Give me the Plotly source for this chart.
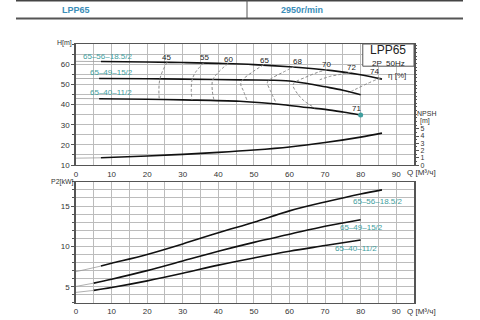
import plotly.graph_objects as go

# ---------------- data ----------------
q_ticks = [0, 10, 20, 30, 40, 50, 60, 70, 80, 90]
h_ticks = [10, 20, 30, 40, 50, 60]
npsh_ticks = [0, 1, 2, 3, 4, 5]
p_ticks = [5, 10, 15]

model_names = ["65–56–18.5/2", "65–49–15/2", "65–40–11/2"]

# Head curves H(Q)
q_h185 = [7, 20, 30, 40, 50, 60, 72, 80, 86]
h_185 = [61.3, 61.1, 60.8, 60.4, 59.8, 58.7, 56.8, 54.8, 52.6]
q_h15 = [6.5, 20, 30, 46, 59, 65, 70, 75, 80]
h_15 = [52.9, 52.8, 52.6, 52.2, 51.8, 50.4, 48.8, 47.1, 44.9]
q_h11 = [6.5, 20, 30, 46, 59, 65, 70, 75, 80]
h_11 = [42.9, 42.6, 42.3, 41.6, 39.8, 38.5, 37.6, 36.3, 34.8]
h_start = [61.4, 52.9, 43.0]  # thin extension at Q=0

# NPSH curve
q_npsh = [7, 20, 30, 40, 50, 60, 70, 80, 86]
npsh = [1.0, 1.25, 1.48, 1.75, 2.08, 2.5, 3.1, 3.85, 4.4]
npsh_start = 0.95

# Power curves P2(Q)
q_p185 = [7, 10, 20, 30, 40, 50, 60, 70, 80, 86]
p_185 = [7.56, 7.9, 9.0, 10.3, 11.7, 13.0, 14.4, 15.5, 16.5, 17.0]
q_p15 = [5, 10, 20, 30, 40, 50, 60, 70, 80]
p_15 = [5.45, 5.94, 7.0, 8.2, 9.4, 10.5, 11.5, 12.5, 13.3]
q_p11 = [5, 10, 20, 30, 40, 50, 60, 70, 80]
p_11 = [4.55, 4.9, 5.73, 6.67, 7.68, 8.57, 9.4, 10.1, 10.8]
p_start = [6.87, 5.04, 4.3]

# Iso-efficiency curves
eta_labels = ["45", "55", "60", "65", "68", "70", "72", "74"]
eta_q = [
    [25.6, 24.2, 23.5, 23.3, 23.4],
    [35.9, 33.6, 32.6, 32.4, 32.6],
    [42.8, 40.0, 38.4, 38.3, 38.8],
    [52.8, 49.5, 46.8, 46.3, 47.0, 48.2],
    [61.5, 58.2, 55.0, 53.8, 54.6, 56.2],
    [70.6, 68.0, 64.5, 61.5, 61.0, 62.2, 64.0, 67.2],
    [77.3, 74.5, 71.5, 68.5],
    [85.6, 82.0, 78.5, 76.5],
]
eta_h = [
    [61.0, 56.0, 52.0, 47.0, 42.5],
    [60.7, 56.0, 52.0, 47.0, 42.2],
    [60.4, 56.0, 52.0, 47.0, 42.0],
    [59.8, 56.0, 52.2, 50.0, 47.0, 41.5],
    [59.0, 56.0, 53.0, 51.0, 47.0, 41.0],
    [57.3, 56.0, 53.5, 51.0, 49.5, 45.5, 42.0, 38.2],
    [56.0, 55.0, 54.0, 52.3],
    [53.2, 50.5, 47.5, 45.8],
]
eta_label_q = [25.5, 36.0, 43.0, 53.0, 62.3, 70.3, 77.5, 84.0]
eta_label_h = [63.3, 63.3, 62.5, 62.0, 61.3, 59.8, 58.3, 56.2]

# ---------------- figure ----------------
L, R, W, H = 76, 66, 480, 320
PW = W - L - R


def px(x):
    return (x - L) / PW


def py(y):
    return (H - y) / H


TEAL = "#3f9e9e"
HEAD = "#3a8db8"
GRID = "#bcbcbc"
AX = "#555555"
FONT = "Liberation Sans, Arial, sans-serif"

fig = go.Figure()

thin = dict(color="#9a9a9a", width=0.8)
bold = dict(color="#111111", width=1.6, shape="spline")

# head curves
for qs, hs, h0 in [(q_h185, h_185, h_start[0]), (q_h15, h_15, h_start[1]), (q_h11, h_11, h_start[2])]:
    fig.add_trace(go.Scatter(x=[0, qs[0]], y=[h0, hs[0]], mode="lines", line=thin, xaxis="x", yaxis="y", hoverinfo="skip"))
    fig.add_trace(go.Scatter(x=qs, y=hs, mode="lines", line=bold, xaxis="x", yaxis="y"))

# efficiency curves
for qs, hs in zip(eta_q, eta_h):
    fig.add_trace(go.Scatter(x=qs, y=hs, mode="lines",
                             line=dict(color="#8c8c8c", width=1, dash="3px,2px", shape="spline"),
                             xaxis="x", yaxis="y"))

# end dot on 11 kW curve
fig.add_trace(go.Scatter(x=[q_h11[-1]], y=[h_11[-1]], mode="markers",
                         marker=dict(color=TEAL, size=5), xaxis="x", yaxis="y"))

# NPSH
fig.add_trace(go.Scatter(x=[0, q_npsh[0]], y=[npsh_start, npsh[0]], mode="lines", line=thin, xaxis="x", yaxis="y2"))
fig.add_trace(go.Scatter(x=q_npsh, y=npsh, mode="lines", line=bold, xaxis="x", yaxis="y2"))

# power
for qs, ps, p0 in [(q_p185, p_185, p_start[0]), (q_p15, p_15, p_start[1]), (q_p11, p_11, p_start[2])]:
    fig.add_trace(go.Scatter(x=[0, qs[0]], y=[p0, ps[0]], mode="lines", line=thin, xaxis="x2", yaxis="y3"))
    fig.add_trace(go.Scatter(x=qs, y=ps, mode="lines", line=bold, xaxis="x2", yaxis="y3"))

tickfont = dict(family=FONT, size=8, color="#333333")

xcommon = dict(range=[0, 95], tickvals=q_ticks, showgrid=True, gridcolor=GRID, gridwidth=1,
               minor=dict(dtick=5, showgrid=True, gridcolor=GRID, ticks=""),
               showline=True, mirror=True, linecolor=AX, linewidth=1, zeroline=False,
               ticks="", tickfont=tickfont, ticklabelstandoff=1)

fig.update_layout(
    width=W, height=H, margin=dict(l=L, r=R, t=0, b=0),
    plot_bgcolor="white", paper_bgcolor="white", showlegend=False,
    font=dict(family=FONT),
    xaxis=dict(domain=[0, 1], anchor="y", **xcommon),
    yaxis=dict(domain=[py(167.7), py(44.7)], range=[10, 70], tickvals=h_ticks,
               showgrid=True, gridcolor=GRID,
               minor=dict(dtick=5, showgrid=True, gridcolor=GRID, ticks="outside", ticklen=2, tickcolor=AX),
               showline=True, mirror=True, linecolor=AX, linewidth=1.5, zeroline=False,
               ticks="outside", ticklen=3, tickcolor=AX, tickfont=tickfont),
    yaxis2=dict(overlaying="y", side="right", anchor="x", range=[0, 60 / 3.6], tickvals=npsh_ticks,
                showgrid=False, zeroline=False, showline=False,
                ticks="outside", ticklen=4, tickcolor=AX, tickfont=dict(family=FONT, size=7, color="#333333"),
                minor=dict(dtick=0.5, ticks="outside", ticklen=2, tickcolor=AX)),
    xaxis2=dict(domain=[0, 1], anchor="y3", **xcommon),
    yaxis3=dict(domain=[py(307.7), py(184.7)], range=[3, 18], tickvals=p_ticks,
                showgrid=True, gridcolor=GRID,
                minor=dict(dtick=1, showgrid=True, gridcolor=GRID, ticks="outside", ticklen=2, tickcolor=AX),
                showline=True, mirror=True, linecolor=AX, linewidth=1.5, zeroline=False,
                ticks="outside", ticklen=3, tickcolor=AX, tickfont=tickfont),
)

# header lines and LPP65 box
fig.add_shape(type="line", xref="paper", yref="paper", x0=px(16), x1=px(463), y0=py(0.7), y1=py(0.7),
              line=dict(color="#444444", width=1.5))
fig.add_shape(type="line", xref="paper", yref="paper", x0=px(16), x1=px(463), y0=py(18.7), y1=py(18.7),
              line=dict(color="#555555", width=2))
fig.add_shape(type="line", xref="paper", yref="paper", x0=px(247), x1=px(247), y0=py(0), y1=py(18.7),
              line=dict(color="#555555", width=1))
fig.add_shape(type="rect", xref="x", yref="y", x0=80.6, x1=95, y0=59, y1=70,
              fillcolor="white", line=dict(color=AX, width=1), layer="above")

ann = []


def txt(x, y, s, size=8, color="#222222", xref="x", yref="y", bold_=False, xanchor="center"):
    if bold_:
        s = "<b>" + s + "</b>"
    ann.append(dict(x=x, y=y, xref=xref, yref=yref, text=s, showarrow=False,
                    font=dict(family=FONT, size=size, color=color), xanchor=xanchor, yanchor="middle"))


txt(px(76), py(10), "LPP65", 9, HEAD, "paper", "paper", True)
txt(px(302), py(10), "2950r/min", 9, HEAD, "paper", "paper", True)
txt(87.8, 66.8, "LPP65", 12, "#222222")
txt(87.8, 60.5, "2P  50Hz", 8, "#222222")
txt(90.3, 54.5, "η [%]", 8, "#333333")
txt(px(64), py(44), "H[m]", 7, "#333333", "paper", "paper")
txt(px(62), py(185), "P2[kW]", 7, "#333333", "paper", "paper")
txt(px(426), py(115), "NPSH", 7, "#333333", "paper", "paper")
txt(px(425), py(122.5), "[m]", 7, "#333333", "paper", "paper")
txt(px(421), py(175.5), "Q [M³/ч]", 8, "#333333", "paper", "paper")
txt(px(421), py(316.5), "Q [M³/ч]", 8, "#333333", "paper", "paper")

for s, q, h in zip(eta_labels, eta_label_q, eta_label_h):
    txt(q, h, s, 8, "#222222")
txt(78.7, 38.0, "71", 8, "#222222")

# model labels, head plot
txt(8.8, 63.9, model_names[0], 8, TEAL)
txt(10.0, 55.8, model_names[1], 8, TEAL)
txt(9.8, 45.8, model_names[2], 8, TEAL)
# model labels, power plot
for s, q, p in zip(model_names, [84.6, 80.3, 78.7], [15.6, 12.35, 9.8]):
    ann.append(dict(x=q, y=p, xref="x2", yref="y3", text=s, showarrow=False,
                    font=dict(family=FONT, size=8, color=TEAL), xanchor="center", yanchor="middle"))

fig.update_layout(annotations=ann)
fig.write_html("out.html")
